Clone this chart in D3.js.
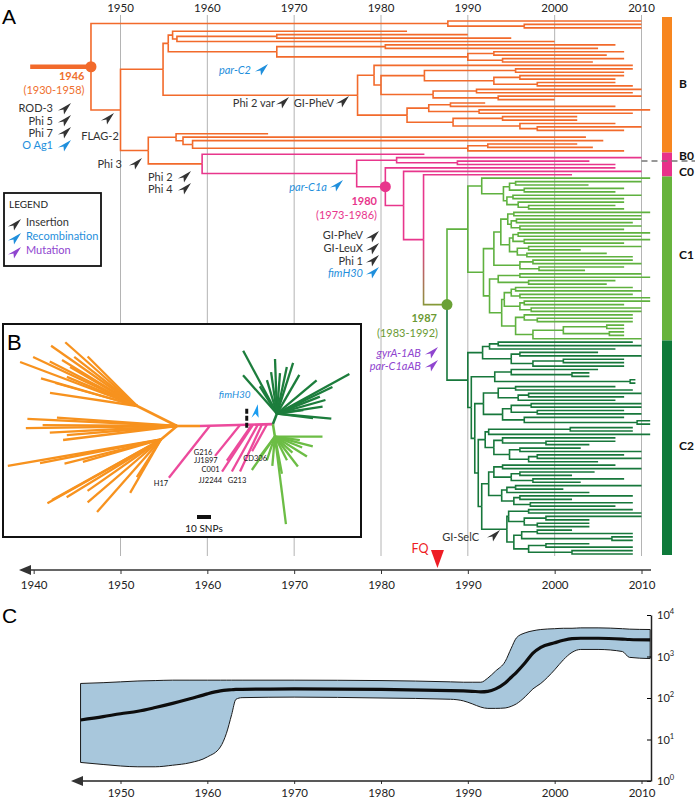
<!DOCTYPE html>
<html>
<head>
<meta charset="utf-8">
<script src="https://cdn.jsdelivr.net/npm/d3@7/dist/d3.min.js"></script>
<style>
html,body{margin:0;padding:0;background:#fff;}
svg{display:block;}
text{font-family:Lato,'Open Sans',sans-serif;}
</style>
</head>
<body>
<svg id="chart" width="695" height="801"></svg>
<script>
// ================= DATA =================
const decadeTicks = [1950,1960,1970,1980,1990,2000,2010];
const bottomTicks = [1940,1950,1960,1970,1980,1990,2000,2010];
const rootStubStart = 1939.6;

// Dated tree, written as nested (children)nodeDate ; tips = sampling year ; ":tag" colours a subtree
const cladeA   = "(2010,(2010,2010)1996.5)1987.7";
const cladeB1a = "((1983,((1990,1995)1968,2000)1956.5)1956,((2007,2005)1980.5,((2008,2006)1993,(2008,2004.4)1994)1990)1968)1955.5";
const cladeB1b = "((2009,(((2009,2008)1995.5,((2008,2007)1996,(2007,2009)1998)1993)1985,((2010,2009)1991,(2010,2000)1993.5)1986)1980)1979.2,(((1992,2007)1988,(2011,2009)1991.3)1985.5,((2002.6,2002.6)1994,(2007,(2010,2008)1998)1996)1988.3)1983)1977.3";
const cladeB2  = "(1967,(2003.6,(2005.6,((2002.6,2004.4)1992.3,2008)1990)1958.3)1957.2)1956.4";
const cladeC1a = "(2011,(((2010,2003.9)1995.5,(2008,2007)1996.5)1994.8,((2010,2008)1995.2,(2008,(2007,2008)1997)1995.8)1994.5)1994.1)1991.6";
const cladeC1b1 = "((((2011,2010)1995.3,((2010,2009)1995.6,(2010,2008)1996)1995)1994.6,(((2011,2010)1995.8,(2011,2008)1996.5)1995.2,((2010,2003)1997,(2006,2009)1996.8)1995.7)1994.8)1993.8,((2009,2010)1997.5,(2008,2003.5)1998.2)1996)1993";
const cladeC1b2 = "(((2010,2011)1996,(2007,2006)1997)1993.5,((((2009,2010)1995.5,(2009,2011)1996)1995,((2011,2008)1996.5,(2010,2010)1997.3)1996)1994.2,((2009,(2009,2009)1998)1996.5,(((2008,2008)2006,(2008,2008)2006.3)2001,2010)1997.5)1995.5)1993.9)1992.5";
const cladeC2s1 = "(((2009,2010)1993.5,2007)1992.5,((2005,2010)1996,((2008,2008)2001,2008)1997.5)1995)1991.7";
const cladeC2s2 = "((2005,(2004,2004)2002)1995,(2009.3,2009.3)2008.7)1993.1";
const cladeC2s3 = "(((2007,2009)1995.5,((2010,2008)1997,2007)1995.8)1993.5,(((2010,2010)1997.3,(2008,2010)1998)1995,(2008,(2011,2011)2009.5)1996.5)1994)1991.8";
const cladeC2s4 = "(((2009,2009)2001.8,2011)1992.4,((2007,(2007,2004)1999)1994,((2003,2010)1996,((2008,2010)1998,2005)1997)1994.8)1993)1992";
const cladeC2s5 = "(((2007,2010)1994,((2004.6,2002)1996,(2008,2003)1997.5)1995)1993,(((2010,2001)1995.5,2004)1994.5,((2009,2002)1996,(2009,2007)1997.2)1995.3)1993.9)1992.4";
const cladeC2s6 = "(((2009,2010)1997,((2010,2004)1999,(2004,2004)1998)1996.5)1994.7,(((2002,2009)1998,(2009,2009)2006.6)1996.2,((2004,2009)1999,(2009,2009)2002)1997)1995.3)1994.5";
const cladeC1 = `(${cladeC1a},(${cladeC1b1},${cladeC1b2})1991.8)1990:c1`;
const cladeC2 = `(${cladeC2s1},(${cladeC2s2},(${cladeC2s3},(${cladeC2s4},(${cladeC2s5},${cladeC2s6})1991.6)1991.2)1990.8)1990.4)1990:c2`;
const cladeP  = `(1985:pink,((2010,(2004,2007)1988.8)1981.8,(2007,(2010,(2002,(${cladeC1},${cladeC2})1987.6:grad:dot)1984.9)1982.6)1980.5::dot)1977.2:pink)1959.4`;
const treeNewick = `(${cladeA},((${cladeB1a},${cladeB1b})1954.9,(${cladeB2},${cladeP})1953.2)1950)1946.6::dot`;

const cladeNames = ["B","B0","C0","C1","C2"];

// Panel C: effective population size (skyline)
const neYears  = [1945.4,1948,1950,1952,1954,1956,1958,1960,1961.5,1962.2,1962.8,1963.3,1964,1970,1980,1988,1989.5,1990.5,1991.5,1992.3,1993.2,1994.3,1995,1995.6,1996.6,1997.5,1998.4,2000,2001,2002,2003,2005,2007.8,2008.6,2011];
const neUpper  = [224,234,245,257,263,269,269,269,269,269,269,269,269,269,263,245,240,240,240,302,447,759,1585,2818,3715,4169,4467,4677,4786,4786,4898,4898,4677,4571,4467];
const neMedian = [29.5,35.5,41.7,47.9,58.9,74.1,95.5,126,148,155,158,162,162,166,162,151,148,145,141,145,166,229,316,417,708,1202,1660,2138,2455,2692,2754,2754,2630,2570,2512];
const neLower  = [2.8,2.5,2.3,2.2,2.2,2.4,2.75,3.8,6.6,14.1,39.8,93.3,102,105,100,93.3,85.1,72.4,60.3,56.2,56.2,57.5,63.1,72.4,107,166,224,479,832,1259,1479,1479,1318,955,891];
const neTicks  = [1,10,100,1000,10000];

// Inset B: unrooted tree, branches as [angle (deg, clockwise from east), length (SNPs)]
const insetHubs = [
  ["orangeHub","center",180,16.4,"orange"],
  ["orangeUp","orangeHub",206.6,31.9,"orange"],
  ["orangeLow","orangeHub",140,15,"orange"],
  ["greenJ","center",-1.5,52.1,"pink"],
  ["darkHub","greenJ",-69,8,"c2"],
  ["lightHub","greenJ",81,9,"c1"]
];
const insetOrangeUp  = [[221.6,68.6],[200.6,89.3],[205.2,82.1],[211.5,62.9],[188.5,62.9],[195.7,60.7],[210.2,55.4],[202.5,54.3],[225,50],[196,71.4],[215,75],[218,57],[207,70]];
const insetOrangeMid = [[182.7,107],[179.2,108],[173,82],[175.3,79],[180.4,96],[177,91],[184,86]];
const insetOrangeLow = [[170.2,111],[150.7,93],[151,89],[131.4,69],[120,44],[139.4,69],[169,88],[164,58],[122.6,32],[148.5,79],[166,71],[145,64]];
const insetDark  = [[241.8,51],[268,39],[331.3,59],[5.2,39],[228.6,36.6],[351.3,33],[334.3,44],[287.7,38],[320,37],[237.8,23],[282,34],[338.4,33],[352.3,19],[253.4,25],[274.3,29],[7,26],[344.3,36],[300,32],[262,30]];
const insetLight = [[0,34],[82.8,63],[124.5,29],[52.5,27],[14.7,28],[63,19],[42.5,17],[108.8,18],[8,18],[127,18],[32,27],[79.3,27],[95,21],[22,21]];
// pink strains: [name, position along backbone (SNPs), angle, length]
const insetPink = [["H17",7.1,128.3,47.3],["G216",28.6,128.9,28.4],["JJ1897",37.1,124.8,31.3],["C001",37.9,123.4,40.2],["JJ2244",41.4,119,38.4],["G213",44.3,115,37.1],["CD306",47.9,119,22]];
const fimH30Pos = 33.4;
const scaleBarSNPs = 10;

// ================= STYLE / LAYOUT =================
const COL = {orange:"#f26a2b", pink:"#e8368c", c1:"#5fb13f", c2:"#17773b", grad:"url(#stemGrad)"};
const DOT = {orange:"#f26a2b", pink:"#e8368c", grad:"#6aa136"};
const BAR = {orange:"#f7861f", pink:"#e8318a", c1:"#67b33c", c2:"#0e7a3a"};
const ICOL = {orange:"#f7921e", pink:"#ec4a9c", c1:"#6cbd45", c2:"#1c7d3c"};
const INS = "#333333", REC = "#1f8fdc", MUT = "#8f45cf";
const TXT = {orange:"#ef6f2e", pink:"#e8368c", green:"#6b9a33"};

const svg = d3.select("#chart");
const defs = svg.append("defs");
const x = d3.scaleLinear().domain([1950, 2010]).range([120.5, 641.5]);

// ---------- parse tree ----------
function parseTree(s) {
  let i = 0;
  function node() {
    const n = {children: []};
    if (s[i] === "(") {
      i++;
      n.children.push(node());
      while (s[i] === ",") { i++; n.children.push(node()); }
      i++;
    }
    const j = i;
    while (i < s.length && s[i] !== "," && s[i] !== ")") i++;
    const lab = s.slice(j, i).split(":");
    n.date = +lab[0];
    if (lab[1]) n.tag = lab[1];
    if (lab[2]) n.flag = lab[2];
    return n;
  }
  return node();
}
const root = d3.hierarchy(parseTree(treeNewick));
const leaves = root.leaves();
const leafY = d3.scaleLinear().domain([0, leaves.length - 1]).range([21, 554]);
leaves.forEach((l, i) => l.py = leafY(i));
root.eachAfter(n => { if (n.children) n.py = (n.children[0].py + n.children[n.children.length - 1].py) / 2; });
root.eachBefore(n => { n.tag = n.data.tag || (n.parent ? n.parent.tag : "orange"); n.px = x(n.data.date); });

// ---------- gridlines + top labels ----------
const grid = svg.append("g");
decadeTicks.forEach(yr => {
  grid.append("line").attr("x1", x(yr)).attr("x2", x(yr)).attr("y1", 15).attr("y2", 556)
    .attr("stroke", "#b4b4b4").attr("stroke-width", 1);
  grid.append("text").attr("x", x(yr)).attr("y", 12).attr("text-anchor", "middle")
    .attr("font-size", 11.5).attr("fill", "#222").text(yr);
});
svg.append("text").attr("x", 2).attr("y", 24).attr("font-size", 21)
  .style("font-family", "'Liberation Sans',Arial,sans-serif").text("A");

// ---------- tree ----------
const gradNode = root.descendants().find(n => n.data.tag === "grad");
const sg = defs.append("linearGradient").attr("id", "stemGrad").attr("gradientUnits", "userSpaceOnUse")
  .attr("x1", gradNode.parent.px).attr("y1", gradNode.parent.py).attr("x2", gradNode.px).attr("y2", gradNode.py);
sg.append("stop").attr("offset", "0").attr("stop-color", COL.pink);
sg.append("stop").attr("offset", "1").attr("stop-color", "#7fa032");

const gT = svg.append("g").attr("fill", "none");
gT.append("line").attr("x1", x(rootStubStart)).attr("x2", root.px).attr("y1", root.py).attr("y2", root.py)
  .attr("stroke", COL.orange).attr("stroke-width", 4.5);
root.descendants().filter(n => n.parent).forEach(n => {
  gT.append("path").attr("d", `M${n.parent.px},${n.parent.py}V${n.py}H${n.px}`)
    .attr("stroke", COL[n.tag]).attr("stroke-width", 1.6);
});
root.descendants().filter(n => n.data.flag === "dot").forEach(n => {
  svg.append("circle").attr("cx", n.px).attr("cy", n.py).attr("r", 5.5).attr("fill", DOT[n.tag]);
});

// ---------- right clade bars ----------
const groups = ["orange", "pink", "c1", "c2"].map(t => {
  const ls = leaves.filter(l => l.tag === t);
  return {t, y0: d3.min(ls, l => l.py), y1: d3.max(ls, l => l.py)};
});
groups.forEach((g, i) => {
  g.top = i === 0 ? g.y0 - 4 : (groups[i - 1].y1 + g.y0) / 2;
  g.bot = i === groups.length - 1 ? g.y1 + 1 : (g.y1 + groups[i + 1].y0) / 2;
});
groups.forEach(g => svg.append("rect").attr("x", 662).attr("width", 10).attr("y", g.top).attr("height", g.bot - g.top).attr("fill", BAR[g.t]));
const pinkG = groups[1], pinkMid = (pinkG.top + pinkG.bot) / 2;
svg.append("line").attr("x1", 641.5).attr("x2", 695).attr("y1", pinkMid - 3.5).attr("y2", pinkMid - 3.5)
  .attr("stroke", "#777").attr("stroke-width", 1.5).attr("stroke-dasharray", "6,4");
const labY = [(groups[0].top + groups[0].bot) / 2 + 3, pinkMid - 5, pinkMid + 11,
  (groups[2].top + groups[2].bot) / 2 + 1, (groups[3].top + groups[3].bot) / 2 + 2];
cladeNames.forEach((c, i) => svg.append("text").attr("x", 679).attr("y", labY[i]).attr("font-size", 12)
  .attr("font-weight", "bold").attr("fill", "#111").text(c));

// ---------- bottom axis A ----------
const axA = svg.append("g").attr("transform", "translate(0,570)")
  .call(d3.axisBottom(x).tickValues(bottomTicks).tickFormat(d3.format("d")).tickSize(4).tickPadding(7).tickSizeOuter(0));
axA.select(".domain").remove();
axA.selectAll(".tick line").attr("stroke", "#333");
axA.selectAll(".tick text").attr("font-size", 11.5).attr("fill", "#222").style("font-family", "Lato,sans-serif");
svg.append("line").attr("x1", 28).attr("x2", 651).attr("y1", 570).attr("y2", 570).attr("stroke", "#333").attr("stroke-width", 1.5);
svg.append("path").attr("d", "M19,570L31,565L31,575Z").attr("fill", "#333");

// ---------- icons & annotations ----------
function icon(px, py, color, rot) {
  svg.append("path").attr("d", "M6,-5L-7,2.5L-1.5,1.5L-1,6.5Z")
    .attr("transform", `translate(${px},${py}) rotate(${rot || 0})`).attr("fill", color);
}
const annotations = [
  ["1946", 84.5, 80, "end", TXT.orange, 0, 1],
  ["(1930-1958)", 84.5, 94, "end", TXT.orange],
  ["ROD-3", 53, 112, "end", INS],
  ["Phi 5", 53, 124.5, "end", INS],
  ["Phi 7", 53, 137, "end", INS],
  ["O Ag1", 53, 149, "end", REC],
  ["FLAG-2", 100, 140, "middle", INS],
  ["Phi 3", 122, 168, "end", INS],
  ["Phi 2", 148, 181, "start", INS],
  ["Phi 4", 148, 193, "start", INS],
  ["par-C2", 251, 74, "end", REC, 1],
  ["Phi 2 var", 275, 107, "end", INS],
  ["GI-PheV", 334, 107, "end", INS],
  ["par-C1a", 327, 191, "end", REC, 1],
  ["1980", 377, 204.5, "end", TXT.pink, 0, 1],
  ["(1973-1986)", 377, 218.5, "end", TXT.pink],
  ["GI-PheV", 363, 239, "end", INS],
  ["GI-LeuX", 363, 252, "end", INS],
  ["Phi 1", 363, 265, "end", INS],
  ["fimH30", 363, 277, "end", REC, 1],
  ["1987", 437, 321.5, "end", TXT.green, 0, 1],
  ["(1983-1992)", 438, 336.5, "end", TXT.green],
  ["gyrA-1AB", 421, 357, "end", MUT, 1],
  ["par-C1aAB", 421, 370, "end", MUT, 1],
  ["GI-SelC", 479, 541, "end", INS],
  ["FQ", 420, 553, "middle", "#ee1c24"]
];
annotations.forEach(a => svg.append("text").attr("x", a[1]).attr("y", a[2]).attr("text-anchor", a[3])
  .attr("fill", a[4]).attr("font-size", a[0] === "FQ" ? 12.5 : 11).attr("font-style", a[5] ? "italic" : null)
  .attr("font-weight", a[6] ? "bold" : null).text(a[0]));
const icons = [[65,108,INS],[65,120,INS],[65,132,INS],[65,145,REC],[108,118,INS],[136,163,INS],[185,176,INS],[185,188,INS],
  [262,69,REC],[283,102,INS],[343,101,INS],[337,185,REC],[373,236,INS],[373,248,INS],[373,260,INS],[373,272,REC],
  [432,352,MUT],[432,365,MUT],[494,535,INS]];
icons.forEach(c => icon(c[0], c[1], c[2]));
svg.append("path").attr("d", `M${x(1986.5) - 6.5},550L${x(1986.5) + 6.5},550L${x(1986.5)},568Z`).attr("fill", "#ee1c24");

// ---------- legend ----------
svg.append("rect").attr("x", 4).attr("y", 193).attr("width", 97).attr("height", 73)
  .attr("fill", "#fff").attr("stroke", "#111").attr("stroke-width", 1.8);
svg.append("text").attr("x", 9).attr("y", 208).attr("font-size", 10).attr("fill", "#222").text("LEGEND");
[["Insertion", INS, 226], ["Recombination", REC, 240], ["Mutation", MUT, 254]].forEach(r => {
  icon(15, r[2] - 2, r[1]);
  svg.append("text").attr("x", 26).attr("y", r[2]).attr("font-size", 11).attr("fill", r[1]).text(r[0]);
});

// ---------- inset B ----------
svg.append("rect").attr("x", 3).attr("y", 324).attr("width", 358).attr("height", 213)
  .attr("fill", "#fff").attr("stroke", "#111").attr("stroke-width", 2);
svg.append("text").attr("x", 7).attr("y", 350).attr("font-size", 22)
  .style("font-family", "'Liberation Sans',Arial,sans-serif").text("B");
const snp = d3.scaleLinear().domain([0, 10]).range([0, 14]);
const gI = svg.append("g").attr("transform", "translate(200,426)").attr("stroke-width", 2.3).attr("fill", "none");
function polar(p, ang, len) { const r = ang * Math.PI / 180; return [p[0] + snp(len) * Math.cos(r), p[1] + snp(len) * Math.sin(r)]; }
const hubPos = {center: [0, 0]};
const seg = (a, b, c, w) => gI.append("line").attr("x1", a[0]).attr("y1", a[1]).attr("x2", b[0]).attr("y2", b[1]).attr("stroke", c).attr("stroke-width", w || 2.3);
insetHubs.forEach(h => { hubPos[h[0]] = polar(hubPos[h[1]], h[2], h[3]); });
function fan(hub, list, color) { list.forEach(b => seg(hubPos[hub], polar(hubPos[hub], b[0], b[1]), color)); }
fan("orangeUp", insetOrangeUp, ICOL.orange);
fan("orangeHub", insetOrangeMid, ICOL.orange);
fan("orangeLow", insetOrangeLow, ICOL.orange);
fan("darkHub", insetDark, ICOL.c2);
fan("lightHub", insetLight, ICOL.c1);
insetHubs.forEach(h => seg(hubPos[h[1]], hubPos[h[0]], ICOL[h[4]], 2.6));
const pinkLabOff = {H17:[-8,8.5], G216:[-12,-0.5], JJ1897:[-21,2.5], C001:[-11.5,0.5], JJ2244:[-21.5,11.5], G213:[-3,11.5], CD306:[3,9.5]};
insetPink.forEach(p => {
  const s = polar([0, 0], -1.5, p[1]), e = polar(s, p[2], p[3]);
  seg(s, e, ICOL.pink);
  const o = pinkLabOff[p[0]];
  gI.append("text").attr("x", e[0] + o[0]).attr("y", e[1] + o[1]).attr("text-anchor", "middle")
    .attr("font-size", 7.5).attr("fill", "#111").attr("stroke", "none").text(p[0]);
});
const fm = polar([0, 0], -1.5, fimH30Pos);
gI.append("line").attr("x1", fm[0]).attr("x2", fm[0]).attr("y1", fm[1] - 16).attr("y2", fm[1] + 5)
  .attr("stroke", "#111").attr("stroke-width", 3).attr("stroke-dasharray", "5,2");
gI.append("text").attr("x", fm[0] - 12).attr("y", fm[1] - 27).attr("text-anchor", "middle").attr("font-size", 10)
  .attr("font-style", "italic").attr("fill", REC).attr("stroke", "none").text("fimH30");
svg.append("path").attr("d", "M6,-5L-7,2.5L-1.5,1.5L-1,6.5Z")
  .attr("transform", `translate(${200 + fm[0] + 9},${426 + fm[1] - 13}) rotate(-35)`).attr("fill", "#1a9cf0");
svg.append("rect").attr("x", 197).attr("y", 515).attr("width", snp(scaleBarSNPs)).attr("height", 4).attr("fill", "#111");
svg.append("text").attr("x", 197 + snp(scaleBarSNPs) / 2).attr("y", 532).attr("text-anchor", "middle")
  .attr("font-size", 10).attr("fill", "#111").text(scaleBarSNPs + " SNPs");

// ---------- panel C ----------
svg.append("text").attr("x", 2).attr("y", 623).attr("font-size", 21)
  .style("font-family", "'Liberation Sans',Arial,sans-serif").text("C");
const yC = d3.scaleLog().domain([1, 10000]).range([781, 615]);
const neData = neYears.map((yr, i) => ({yr, lo: neLower[i], med: neMedian[i], hi: neUpper[i]}));
svg.append("path").datum(neData)
  .attr("d", d3.area().x(d => x(d.yr)).y0(d => yC(d.lo)).y1(d => yC(d.hi)).curve(d3.curveMonotoneX))
  .attr("fill", "#a8c7dc").attr("stroke", "#1a1a1a").attr("stroke-width", 1);
svg.append("path").datum(neData)
  .attr("d", d3.line().x(d => x(d.yr)).y(d => yC(d.med)).curve(d3.curveMonotoneX))
  .attr("fill", "none").attr("stroke", "#0d0d0d").attr("stroke-width", 3.2);
const axR = svg.append("g").attr("transform", "translate(651,0)")
  .call(d3.axisRight(yC).tickValues(neTicks).tickSize(-4).tickSizeOuter(0).tickFormat(""));
axR.select(".domain").attr("stroke", "#222").attr("stroke-width", 1.5);
neTicks.forEach(v => {
  const t = svg.append("text").attr("x", 657).attr("y", yC(v) + 4).attr("font-size", 11).attr("fill", "#222").text("10");
  t.append("tspan").attr("dy", -5).attr("font-size", 7.5).text(Math.round(Math.log10(v)));
});
const axC = svg.append("g").attr("transform", "translate(0,781)")
  .call(d3.axisBottom(x).tickValues(decadeTicks).tickFormat(d3.format("d")).tickSize(3).tickPadding(5).tickSizeOuter(0));
axC.select(".domain").remove();
axC.selectAll(".tick line").attr("stroke", "#333");
axC.selectAll(".tick text").attr("font-size", 11.5).attr("fill", "#222").style("font-family", "Lato,sans-serif");
svg.append("line").attr("x1", 80).attr("x2", 651).attr("y1", 781).attr("y2", 781).attr("stroke", "#222").attr("stroke-width", 1.5);
svg.append("path").attr("d", "M71,781L83,776L83,786Z").attr("fill", "#333");
</script>
</body>
</html>
